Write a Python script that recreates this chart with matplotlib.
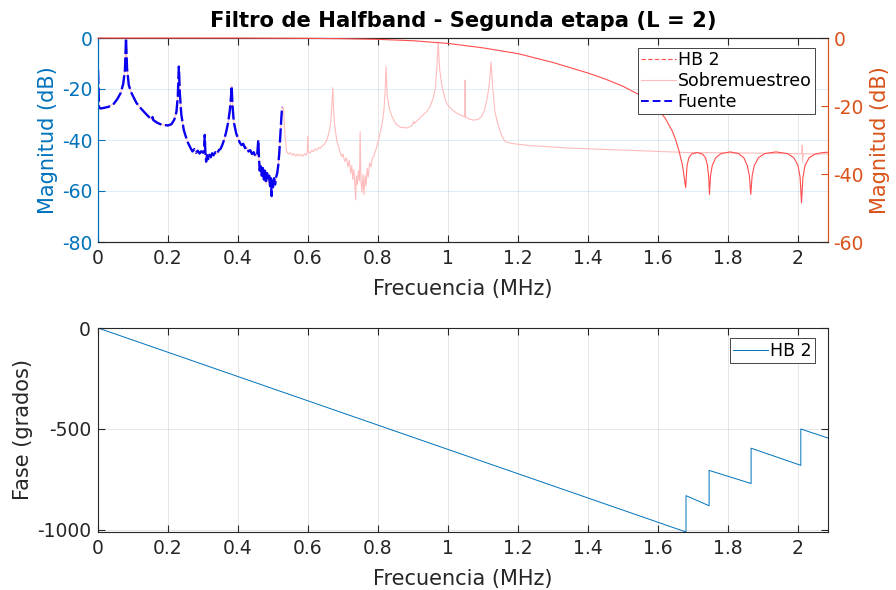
import numpy as np
import matplotlib
matplotlib.use("Agg")
import matplotlib.pyplot as plt
from matplotlib.lines import Line2D
from matplotlib.ticker import FuncFormatter

plt.rcParams["font.family"] = ["DejaVu Sans"]
plt.rcParams["axes.unicode_minus"] = False

# Espectro de la fuente (dB), 0 - 0.526 MHz
fuente_f = [0.0, 0.003, 0.01, 0.03, 0.045, 0.055, 0.065, 0.072, 0.077, 0.08, 0.083, 0.088,
            0.096, 0.11, 0.125, 0.14, 0.153, 0.156, 0.158, 0.17, 0.182, 0.2, 0.21, 0.218,
            0.224, 0.228, 0.231, 0.234, 0.238, 0.245, 0.255, 0.265, 0.27, 0.275, 0.28,
            0.285, 0.29, 0.295, 0.30, 0.303, 0.305, 0.307, 0.309, 0.312, 0.315, 0.318,
            0.322, 0.326, 0.33, 0.335, 0.34, 0.345, 0.35, 0.355, 0.36, 0.366, 0.372,
            0.377, 0.38, 0.382, 0.384, 0.388, 0.395, 0.405, 0.41, 0.415, 0.42, 0.425,
            0.43, 0.435, 0.44, 0.445, 0.45, 0.455, 0.458, 0.46, 0.462, 0.465, 0.468,
            0.471, 0.474, 0.477, 0.48, 0.483, 0.486, 0.489, 0.492, 0.494, 0.496, 0.498,
            0.5, 0.503, 0.506, 0.509, 0.512, 0.515, 0.518, 0.521, 0.524, 0.526]
fuente_db = [-12.5, -27.5, -27.6, -27.0, -25.8, -24.0, -21.5, -18.0, -12.5, 0.0, -12.0, -18.5,
             -21.7, -25.5, -28.0, -30.2, -32.0, -31.0, -32.2, -33.3, -34.0, -34.3, -33.8, -32.0,
             -29.0, -23.0, -11.2, -22.0, -30.0, -36.0, -40.5, -43.3, -44.5, -43.6, -45.0,
             -44.2, -45.3, -44.4, -45.0, -44.2, -38.0, -45.5, -48.5, -46.0, -47.5, -45.8,
             -46.8, -45.2, -46.0, -44.8, -45.5, -44.0, -43.5, -42.0, -40.0, -37.0, -33.0,
             -28.0, -23.0, -18.8, -26.0, -33.0, -37.5, -41.0, -42.0, -41.5, -43.2, -42.8,
             -44.5, -44.0, -45.5, -44.8, -46.5, -45.5, -40.0, -47.0, -52.0, -49.5, -54.0,
             -51.0, -55.5, -52.0, -57.0, -53.0, -56.0, -54.0, -59.0, -55.0, -62.0, -56.0,
             -58.5, -55.0, -57.5, -54.5, -53.0, -50.0, -45.0, -38.0, -31.0, -27.0]

# Señal sobremuestreada por encima de la banda de la fuente (dB)
sobre_f_ext = [0.53, 0.534, 0.539, 0.545, 0.55, 0.555, 0.56, 0.565, 0.57, 0.575, 0.58, 0.585,
               0.59, 0.595, 0.598, 0.599, 0.601, 0.605, 0.61, 0.615, 0.62, 0.625, 0.63, 0.635,
               0.64, 0.645, 0.65, 0.655, 0.66, 0.664, 0.667, 0.669, 0.671, 0.673, 0.676,
               0.682, 0.69, 0.696, 0.70, 0.705, 0.71, 0.714, 0.718, 0.722, 0.725, 0.728,
               0.731, 0.734, 0.736, 0.738, 0.741, 0.744, 0.747, 0.749, 0.751, 0.754, 0.757,
               0.76, 0.763, 0.766, 0.769, 0.772, 0.776, 0.78, 0.784, 0.788, 0.792, 0.796,
               0.805, 0.812, 0.817, 0.82, 0.823, 0.826, 0.832, 0.839, 0.846, 0.853, 0.865,
               0.882, 0.895, 0.9, 0.902, 0.904, 0.915, 0.93, 0.939, 0.948, 0.958, 0.964,
               0.968, 0.972, 0.976, 0.982, 0.99, 0.996, 1.01, 1.025, 1.04, 1.048, 1.049,
               1.05, 1.06, 1.072, 1.085, 1.095, 1.103, 1.11, 1.115, 1.118, 1.123, 1.128,
               1.134, 1.142, 1.149, 1.156, 1.163, 1.18, 1.196, 1.234, 1.272, 1.35, 1.49,
               1.68, 1.86, 2.0, 2.011, 2.012, 2.013, 2.015, 2.086]
sobre_db_ext = [-27.5, -38.0, -44.6, -45.5, -45.0, -46.0, -45.3, -46.3, -45.5, -46.2, -45.6, -46.4,
                -45.4, -46.0, -45.0, -38.7, -44.5, -45.2, -44.0, -44.6, -43.5, -44.0, -43.0, -43.3,
                -42.3, -42.0, -41.0, -39.5, -37.0, -34.0, -29.0, -24.0, -19.5, -28.0, -34.0,
                -40.0, -44.0, -46.5, -45.5, -48.5, -47.0, -50.5, -48.0, -53.0, -50.0, -55.5,
                -51.5, -58.0, -63.5, -54.0, -57.5, -52.0, -56.0, -36.7, -55.0, -60.5, -53.5,
                -61.5, -54.0, -58.0, -51.0, -54.5, -49.0, -50.5, -47.0, -46.5, -44.5, -43.0,
                -38.0, -33.5, -28.0, -22.0, -11.2, -22.0, -27.5, -30.5, -32.5, -34.0, -35.0,
                -35.3, -34.5, -33.6, -32.6, -33.5, -32.0, -30.0, -28.9, -27.0, -23.5, -19.5,
                -12.0, -1.5, -12.0, -18.4, -23.0, -25.6, -28.0, -29.5, -30.5, -30.9, -16.5,
                -31.0, -31.7, -32.2, -32.0, -31.0, -28.8, -25.0, -21.0, -18.0, -9.3, -20.0,
                -28.9, -33.5, -36.7, -39.0, -40.6, -41.3, -41.6, -42.2, -42.5, -43.2, -43.9,
                -44.9, -45.1, -45.4, -45.4, -42.0, -48.5, -45.4, -45.5]
sobre_f = fuente_f + sobre_f_ext
sobre_db = fuente_db + sobre_db_ext

# Respuesta en magnitud del filtro HB 2 (dB, eje derecho)
hb2_f = [0.0, 0.4, 0.6, 0.7, 0.8, 0.9, 1.0, 1.1, 1.2, 1.3, 1.4, 1.45, 1.5, 1.55, 1.6, 1.62,
         1.64, 1.65, 1.66, 1.67, 1.679,
         1.683, 1.688, 1.696, 1.713, 1.728, 1.736, 1.741, 1.745, 1.747,
         1.75, 1.755, 1.765, 1.78, 1.806, 1.83, 1.845, 1.855, 1.861, 1.865,
         1.869, 1.875, 1.887, 1.905, 1.937, 1.97, 1.988, 2.0, 2.006, 2.01,
         2.014, 2.02, 2.032, 2.05, 2.07, 2.086]
hb2_db = [0.0, -0.02, -0.1, -0.2, -0.4, -0.8, -1.6, -2.9, -4.6, -7.2, -10.3, -12.1, -14.2,
          -16.9, -21.0, -23.5, -27.2, -29.8, -33.2, -37.5, -44.0,
          -37.5, -35.3, -34.1, -33.7, -34.2, -35.3, -37.3, -41.0, -46.0,
          -40.5, -37.5, -35.2, -34.0, -33.5, -34.0, -35.2, -37.5, -40.5, -46.0,
          -40.5, -37.5, -35.2, -34.0, -33.5, -34.0, -35.2, -37.5, -41.0, -48.5,
          -41.0, -37.5, -35.2, -34.1, -33.7, -33.6]

# Fase del filtro HB 2 (grados)
fase_f = [0.0, 1.68, 1.68, 1.746, 1.746, 1.866, 1.866, 2.008, 2.008, 2.086]
fase_deg = [0.0, -1010.0, -830.0, -880.0, -705.0, -770.0, -595.0, -680.0, -500.0, -545.0]

AZUL = "#0072BD"
NARANJA = "#D95319"
GRIS = "#262626"
FS = 13.5      # etiquetas de ticks
FL = 15        # etiquetas de ejes
x_max = 2.0857

fig = plt.figure(figsize=(8.96, 5.9), dpi=100)
W, H = 896, 590
ax1 = fig.add_axes([98 / W, 1 - 242 / H, 730 / W, 204 / H])
ax2 = ax1.twinx()
ax3 = fig.add_axes([98 / W, 1 - 532 / H, 730 / W, 204 / H])

fmt = FuncFormatter(lambda v, p: f"{v:g}")

# --- Magnitud ---
ax1.plot(sobre_f, sobre_db, color="#ffbcbc", lw=0.8, zorder=2)
ax1.plot(fuente_f, fuente_db, color="#0a00f0", lw=1.7, ls=(0, (6, 1.5)), zorder=3)
ax2.plot(hb2_f, hb2_db, color="#ff4d4d", lw=0.8, clip_on=False, zorder=5)

ax1.set_xlim(0, x_max)
ax1.set_ylim(-80, 0)
ax2.set_ylim(-60, 0)
ax1.set_yticks([0, -20, -40, -60, -80])
ax2.set_yticks([0, -20, -40, -60])
ax1.set_xticks(np.arange(0, 2.01, 0.2))
ax1.xaxis.set_major_formatter(fmt)
ax1.yaxis.set_major_formatter(fmt)
ax2.yaxis.set_major_formatter(fmt)

ax1.grid(True, axis="x", color="#808080", alpha=0.22, lw=0.6)
ax1.grid(True, axis="y", color=AZUL, alpha=0.15, lw=0.6)
ax1.set_axisbelow(True)

for sp in ["top", "bottom"]:
    ax1.spines[sp].set_color(GRIS)
    ax2.spines[sp].set_color(GRIS)
ax2.spines["left"].set_color(AZUL)
ax2.spines["right"].set_color(NARANJA)
ax1.spines["left"].set_color(AZUL)
ax1.spines["right"].set_color(NARANJA)
for a in (ax1, ax2, ax3):
    for sp in a.spines.values():
        sp.set_linewidth(0.8)

ax1.tick_params(axis="x", direction="in", top=True, length=5, color=GRIS,
                labelcolor=GRIS, labelsize=FS, pad=5)
ax1.tick_params(axis="y", direction="in", length=5, color=AZUL, labelcolor=AZUL,
                labelsize=FS, pad=4)
ax2.tick_params(axis="y", direction="in", length=5, color=NARANJA, labelcolor=NARANJA,
                labelsize=FS, pad=4)

ax1.set_xlabel("Frecuencia (MHz)", fontsize=FL, color=GRIS, labelpad=8)
ax1.set_ylabel("Magnitud (dB)", fontsize=FL, color=AZUL, labelpad=3)
ax2.set_ylabel("Magnitud (dB)", fontsize=FL, color=NARANJA, labelpad=4)
ax1.set_title("Filtro de Halfband - Segunda etapa (L = 2)", fontsize=15.2,
              fontweight="bold", pad=8)

proxies = [Line2D([], [], color="#ff4d4d", lw=0.8, ls=(0, (4, 2))),
           Line2D([], [], color="#ffbcbc", lw=0.8),
           Line2D([], [], color="#0a00f0", lw=1.4, ls=(0, (4, 2)))]
leg = ax2.legend(proxies, ["HB 2", "Sobremuestreo", "Fuente"], loc="upper right",
                 bbox_to_anchor=(0.982, 0.951), fontsize=12.5, frameon=True,
                 fancybox=False, framealpha=1, edgecolor=GRIS, borderpad=0.2,
                 labelspacing=0.15, handlelength=2.0, handletextpad=0.1,
                 borderaxespad=0)
leg.get_frame().set_linewidth(0.6)
leg.set_zorder(10)

# --- Fase ---
ax3.plot(fase_f, fase_deg, color=AZUL, lw=0.7)
ax3.set_xlim(0, x_max)
ax3.set_ylim(-1010, 0)
ax3.set_yticks([-1000, -500, 0])
ax3.set_xticks(np.arange(0, 2.01, 0.2))
ax3.xaxis.set_major_formatter(fmt)
ax3.yaxis.set_major_formatter(fmt)
ax3.grid(True, color="#808080", alpha=0.22, lw=0.6)
ax3.set_axisbelow(True)
for sp in ax3.spines.values():
    sp.set_color(GRIS)
ax3.tick_params(direction="in", top=True, right=True, length=5, color=GRIS,
                labelcolor=GRIS, labelsize=FS, pad=5)
ax3.set_xlabel("Frecuencia (MHz)", fontsize=FL, color=GRIS, labelpad=8)
ax3.set_ylabel("Fase (grados)", fontsize=FL, color=GRIS, labelpad=3)
leg3 = ax3.legend(["HB 2"], loc="upper right", bbox_to_anchor=(0.982, 0.95),
                  fontsize=12.5, frameon=True, fancybox=False, framealpha=1,
                  edgecolor=GRIS, borderpad=0.2, handlelength=2.0,
                  handletextpad=0.1, borderaxespad=0)
leg3.get_frame().set_linewidth(0.6)

fig.savefig("out.png", dpi=100)
